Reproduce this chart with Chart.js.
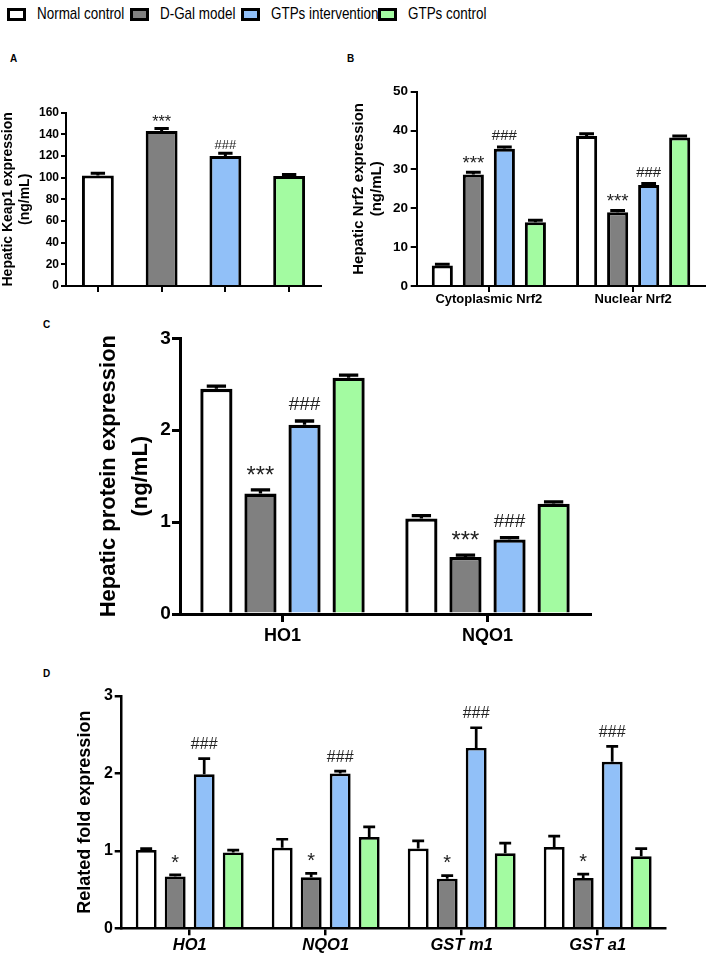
<!DOCTYPE html>
<html>
<head>
<meta charset="utf-8">
<script src="https://cdn.jsdelivr.net/npm/chart.js@4.4.1/dist/chart.umd.min.js"></script>
<style>
  html, body { margin: 0; padding: 0; background: #fff; }
  #page { position: relative; width: 708px; height: 955px; overflow: hidden; font-family: 'Liberation Sans', Arial, sans-serif; }
  canvas { position: absolute; }
  .tag { position: absolute; font-weight: bold; font-size: 10px; line-height: 10px; }
  .item { position: absolute; top: 1px; height: 26px; display: flex; align-items: center; white-space: nowrap; font-size: 17px; }
  .item .box { width: 13px; height: 7px; border: 3px solid #000; margin-right: 11px; flex: none; }
  .item .txt { display: inline-block; transform: scaleX(0.79); transform-origin: left center; }
</style>
</head>
<body>
<div id="page">
  <div id="legend"></div>
  <div class="tag" style="left:10px;top:54px">A</div>
  <div class="tag" style="left:347px;top:54px">B</div>
  <div class="tag" style="left:43px;top:320px">C</div>
  <div class="tag" style="left:43px;top:669px">D</div>
  <canvas id="keap1" width="335" height="225" style="left:0;top:100px"></canvas>
  <canvas id="nrf2" width="368" height="245" style="left:340px;top:80px"></canvas>
  <canvas id="protein" width="600" height="360" style="left:0;top:300px"></canvas>
  <canvas id="mrna" width="708" height="275" style="left:0;top:680px"></canvas>
</div>
<script>
// groups (one colour each)
const groups = ['Normal control', 'D-Gal model', 'GTPs intervention', 'GTPs control'];
const groupColors = ['#ffffff', '#808080', '#91c0f8', '#a3fba1'];
const legendLeft = [7, 130, 241, 378];

// A - hepatic Keap1 (ng/mL), one bar per group
const keap1Mean = [102, 143, 120, 101.5];
const keap1Sem = [2, 2.5, 2.5, 1.5];
const keap1Sig = ['', '***', '###', ''];
const keap1Ticks = [0, 20, 40, 60, 80, 100, 120, 140, 160];

// B - hepatic Nrf2 (ng/mL)
const nrf2Labels = ['Cytoplasmic Nrf2', 'Nuclear Nrf2'];
const nrf2Normal = [5.3, 38.6];
const nrf2Model = [28.7, 19.0];
const nrf2Interv = [35.3, 26.0];
const nrf2Ctrl = [16.4, 38.2];
const nrf2Sem = [[0.3, 0.6], [0.6, 0.4], [0.5, 0.4], [0.5, 0.4]];
const nrf2Sig = [['', ''], ['***', '***'], ['###', '###'], ['', '']];
const nrf2Ticks = [0, 10, 20, 30, 40, 50];

// C - hepatic protein (ng/mL)
const proteinLabels = ['HO1', 'NQO1'];
const proteinNormal = [2.45, 1.04];
const proteinModel = [1.31, 0.62];
const proteinInterv = [2.06, 0.81];
const proteinCtrl = [2.57, 1.2];
const proteinSem = [[0.03, 0.03], [0.04, 0.02], [0.04, 0.02], [0.03, 0.02]];
const proteinSig = [['', ''], ['***', '***'], ['###', '###'], ['', '']];
const proteinTicks = [0, 1, 2, 3];

// D - related fold expression (mRNA)
const mrnaLabels = ['HO1', 'NQO1', 'GST m1', 'GST a1'];
const mrnaNormal = [1.01, 1.04, 1.03, 1.05];
const mrnaModel = [0.67, 0.66, 0.64, 0.65];
const mrnaInterv = [1.99, 2.0, 2.33, 2.15];
const mrnaCtrl = [0.98, 1.18, 0.97, 0.93];
const mrnaSem = [[0.02, 0.11, 0.1, 0.14], [0.02, 0.05, 0.04, 0.05], [0.2, 0.03, 0.26, 0.2], [0.03, 0.13, 0.13, 0.1]];
const mrnaSig = [['', '', '', ''], ['*', '*', '*', '*'], ['###', '###', '###', '###'], ['', '', '', '']];
const mrnaTicks = [0, 1, 2, 3];

const FONT = "'Liberation Sans', Arial, sans-serif";
Chart.defaults.font.family = FONT;
Chart.defaults.color = '#000';
Chart.defaults.animation = false;

// legend row
const legend = document.getElementById('legend');
groups.forEach((g, i) => {
  const el = document.createElement('div');
  el.className = 'item';
  el.style.left = legendLeft[i] + 'px';
  el.innerHTML = '<span class="box" style="background:' + groupColors[i] + '"></span><span class="txt">' + g + '</span>';
  legend.appendChild(el);
});

// error bars (upper only) plus significance marks
const errorBars = {
  id: 'errorBars',
  afterDatasetsDraw(chart, args, opts) {
    const ctx = chart.ctx;
    const yScale = chart.scales.y;
    chart.data.datasets.forEach((ds, i) => {
      chart.getDatasetMeta(i).data.forEach((bar, j) => {
        const top = yScale.getPixelForValue(ds.data[j] + ds.errors[j]);
        const half = bar.width * opts.cap / 2;
        ctx.save();
        ctx.strokeStyle = '#000';
        ctx.lineWidth = opts.lineWidth;
        ctx.beginPath();
        ctx.moveTo(bar.x, bar.y);
        ctx.lineTo(bar.x, top);
        ctx.moveTo(bar.x - half, top);
        ctx.lineTo(bar.x + half, top);
        ctx.stroke();
        const mark = ds.marks[j];
        if (mark) {
          const star = mark.charAt(0) === '*';
          ctx.fillStyle = '#222';
          ctx.font = (star ? opts.markSize * 1.25 : opts.markSize) + 'px ' + FONT;
          ctx.textAlign = 'center';
          ctx.textBaseline = 'alphabetic';
          ctx.fillText(mark, bar.x, top - opts.lineWidth / 2 - opts.gap + (star ? opts.markSize * 0.2 : 0));
        }
        ctx.restore();
      });
    });
  }
};

function yAxis(ticks, title, o) {
  return {
    min: ticks[0], max: ticks[ticks.length - 1],
    afterBuildTicks: s => { s.ticks = ticks.map(v => ({ value: v })); },
    afterFit: s => { s.width = o.width; },
    border: { display: true, color: '#000', width: o.line },
    grid: { drawOnChartArea: false, tickLength: o.tick, tickColor: '#000', tickWidth: o.line, lineWidth: o.line },
    ticks: { color: '#000', padding: o.pad, font: { size: o.tickSize, weight: 'bold' } },
    title: { display: true, text: title, color: '#000', padding: { top: o.titlePad, bottom: 0 },
             font: { size: o.titleSize, weight: 'bold', lineHeight: o.titleLH } }
  };
}

function xAxis(o) {
  return {
    afterFit: s => { s.height = o.height; },
    border: { display: true, color: '#000', width: o.line },
    grid: { offset: false, drawOnChartArea: false, tickLength: o.tick, tickColor: '#000', tickWidth: o.line, lineWidth: o.line },
    ticks: { display: o.labels, color: '#000', padding: o.pad, autoSkip: false, maxRotation: 0,
             font: { size: o.size, weight: 'bold', style: o.italic ? 'italic' : 'normal' } }
  };
}

function groupSets(values, sems, sigs, o) {
  return values.map((v, i) => ({
    label: groups[i], data: v, errors: sems[i], marks: sigs[i],
    backgroundColor: groupColors[i], borderColor: '#000', borderWidth: o.border,
    borderSkipped: 'start', barPercentage: o.bar, categoryPercentage: o.cat
  }));
}

function baseOptions(pad, scales, eb) {
  return {
    responsive: false, animation: false, devicePixelRatio: 1,
    layout: { padding: pad },
    plugins: { legend: { display: false }, tooltip: { enabled: false }, errorBars: eb },
    scales: scales
  };
}

// A
new Chart(document.getElementById('keap1'), {
  type: 'bar',
  data: {
    labels: groups,
    datasets: [{
      data: keap1Mean, errors: keap1Sem, marks: keap1Sig,
      backgroundColor: groupColors, borderColor: '#000', borderWidth: 3,
      barPercentage: 0.5, categoryPercentage: 1
    }]
  },
  options: baseOptions({ top: 12.7, right: 14, left: 0, bottom: 0 }, {
    x: xAxis({ height: 39, line: 2, tick: 6, labels: false, pad: 0, size: 12 }),
    y: yAxis(keap1Ticks, ['Hepatic Keap1 expression', '(ng/mL)'],
      { width: 66, line: 2, tick: 5, pad: 2, tickSize: 12, titlePad: 0, titleSize: 14, titleLH: 1.2 })
  }, { cap: 0.45, lineWidth: 3, markSize: 13, gap: 3 }),
  plugins: [errorBars]
});

// B
new Chart(document.getElementById('nrf2'), {
  type: 'bar',
  data: {
    labels: nrf2Labels,
    datasets: groupSets([nrf2Normal, nrf2Model, nrf2Interv, nrf2Ctrl], nrf2Sem, nrf2Sig,
      { border: 3, bar: 0.68, cat: 0.86 })
  },
  options: baseOptions({ top: 11.7, right: 2.7, left: 0, bottom: 0 }, {
    x: xAxis({ height: 39, line: 2, tick: 6, labels: true, pad: 0, size: 13 }),
    y: yAxis(nrf2Ticks, ['Hepatic Nrf2 expression', '(ng/mL)'],
      { width: 76.7, line: 2, tick: 6, pad: 2.7, tickSize: 13.5, titlePad: 10, titleSize: 15, titleLH: 1.2 })
  }, { cap: 0.7, lineWidth: 3, markSize: 15, gap: 5 }),
  plugins: [errorBars]
});

// C
new Chart(document.getElementById('protein'), {
  type: 'bar',
  data: {
    labels: proteinLabels,
    datasets: groupSets([proteinNormal, proteinModel, proteinInterv, proteinCtrl], proteinSem, proteinSig,
      { border: 3.3, bar: 0.73, cat: 0.86 })
  },
  options: baseOptions({ top: 38.3, right: 10, left: 0, bottom: 0 }, {
    x: xAxis({ height: 46, line: 3, tick: 8, labels: true, pad: 3, size: 18 }),
    y: yAxis(proteinTicks, ['Hepatic protein expression', '(ng/mL)'],
      { width: 180, line: 3, tick: 8, pad: 1.3, tickSize: 19, titlePad: 93, titleSize: 22, titleLH: 1.45 })
  }, { cap: 0.6, lineWidth: 3.3, markSize: 19, gap: 9 }),
  plugins: [errorBars]
});

// D
new Chart(document.getElementById('mrna'), {
  type: 'bar',
  data: {
    labels: mrnaLabels,
    datasets: groupSets([mrnaNormal, mrnaModel, mrnaInterv, mrnaCtrl], mrnaSem, mrnaSig,
      { border: 2.7, bar: 0.72, cat: 0.853 })
  },
  options: baseOptions({ top: 16, right: 42.3, left: 0, bottom: 0 }, {
    x: xAxis({ height: 26.7, line: 2.5, tick: 7, labels: true, pad: 0, size: 16.5, italic: true }),
    y: yAxis(mrnaTicks, 'Related fold expression',
      { width: 121.7, line: 2.5, tick: 7, pad: 1.7, tickSize: 16, titlePad: 74, titleSize: 18, titleLH: 1.2 })
  }, { cap: 0.57, lineWidth: 2.7, markSize: 16, gap: 8 }),
  plugins: [errorBars]
});
</script>
</body>
</html>
